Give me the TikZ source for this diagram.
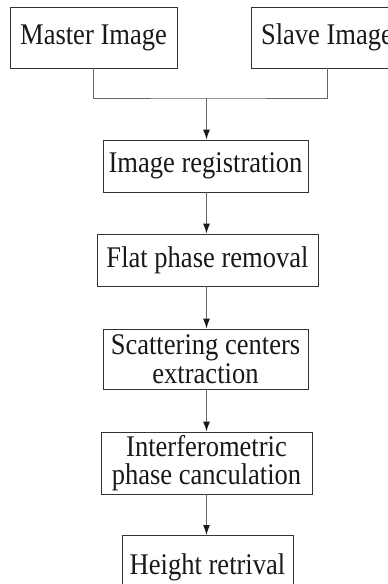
\documentclass[tikz,border=0pt]{standalone}
\usepackage{fontspec}
\setmainfont[FakeStretch=0.885]{Liberation Serif}
\usetikzlibrary{arrows.meta}
\begin{document}
\begin{tikzpicture}[x=1pt,y=-1pt,
  stepbox/.style={draw=black!80,line width=0.9pt,rectangle,inner sep=0pt,align=center,
    font=\fontsize{30}{28.5}\selectfont,text=black!90},
  link/.style={draw=black!60,line width=1pt},
  flow/.style={link,-{Latex[length=10pt,width=7pt,color=black!90]}}]
\useasboundingbox (0,0) rectangle (388,584);
\clip (0,0) rectangle (388,584);
% source images
\node[stepbox,minimum width=167pt,minimum height=61pt] (master) at (93.5,37.5) {Master Image};
\node[stepbox,minimum width=152pt,minimum height=61pt] (slave) at (327,37.5) {Slave Image};
% processing chain
\node[stepbox,minimum width=205pt,minimum height=52pt] (reg) at (205.5,166) {Image registration};
\node[stepbox,minimum width=221pt,minimum height=52pt] (flat) at (207.5,260) {Flat phase removal};
\node[stepbox,minimum width=205pt,minimum height=60pt] (scat) at (205.5,359) {Scattering centers\\extraction};
\node[stepbox,minimum width=211pt,minimum height=62pt] (intf) at (206.5,463) {Interferometric\\phase canculation};
\node[stepbox,minimum width=171pt,minimum height=64pt,anchor=north] (height) at (207.5,535) {Height retrival};
% merge of the two images
\coordinate (join) at (206.5,98);
\draw[link] (master.south) |- (join) -| (slave.south);
\draw[flow] (join) -- (join |- reg.north);
% chain arrows
\draw[flow] (reg.south -| join) -- (join |- flat.north);
\draw[flow] (flat.south -| join) -- (join |- scat.north);
\draw[flow] (scat.south -| join) -- (join |- intf.north);
\draw[flow] (intf.south -| join) -- (join |- height.north);
\end{tikzpicture}
\end{document}
